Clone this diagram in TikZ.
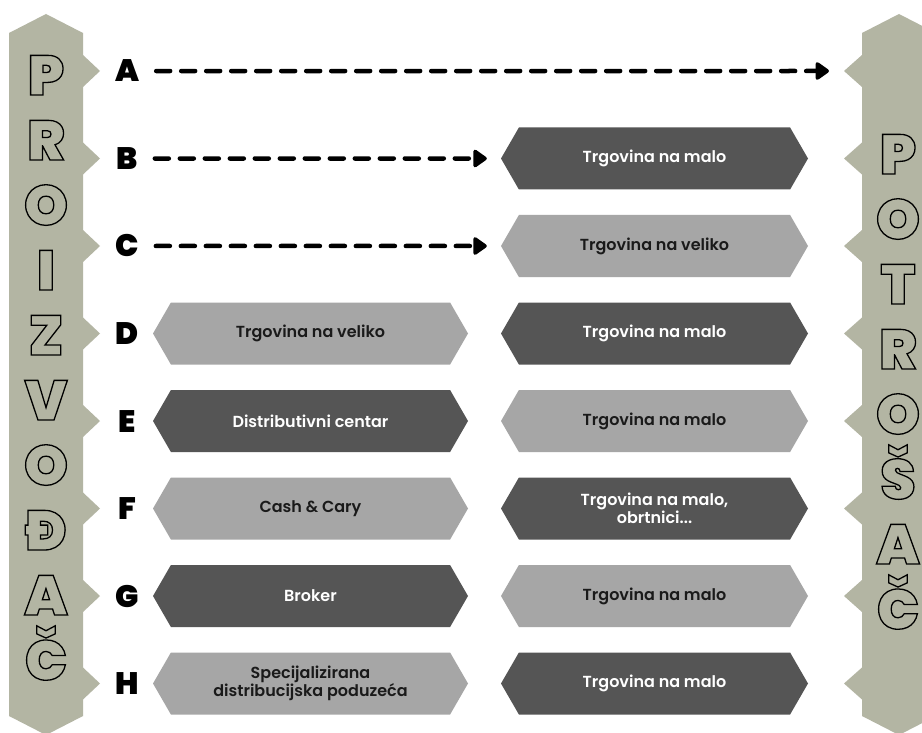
\documentclass[tikz,border=0pt]{standalone}
\usepackage{fontspec}
\setmainfont{Poppins}
\newfontfamily\heavy{Poppins Black}
\newfontfamily\boxfont{Poppins SemiBold}
\usetikzlibrary{shapes.symbols,arrows.meta}
\definecolor{bar}{HTML}{B3B5A3}
\definecolor{dk}{HTML}{555555}
\definecolor{lt}{HTML}{A6A6A6}
\definecolor{ink}{HTML}{1A1A1A}
\newcommand\hollowtxt[1]{\special{pdf:literal direct 1 Tr 1.3 w 0 0 0 RG}#1\special{pdf:literal direct 0 Tr}}
\begin{document}
\begin{tikzpicture}[x=1pt,y=-1pt,
  rowlet/.style={font=\heavy\fontsize{31}{31}\selectfont, text=black, anchor=base, inner sep=0pt},
  barlet/.style={font=\heavy\fontsize{56}{56}\selectfont, anchor=base, inner sep=0pt},
  hexbox/.style={signal, signal to=west and east, signal pointer angle=120, minimum height=62pt, inner sep=0pt, font=\boxfont\fontsize{16}{17.5}\selectfont, align=center},
  dkbox/.style={hexbox, fill=dk, text=white},
  ltbox/.style={hexbox, fill=lt, text=ink},
  leftcol/.style={minimum width=315pt},
  rightcol/.style={minimum width=307pt},
  dasharrow/.style={line width=4.5pt, dash pattern=on 14pt off 11pt, line cap=round, -{Triangle[length=15pt,width=20pt,round]}}
]
\useasboundingbox (0,0) rectangle (922,733);
\fill[white] (0,0) rectangle (922,733);
% side bars
\fill[bar] (9,33) -- (46,14) -- (83,33)
  \foreach \i in {0,...,7}{ -- (83,{71+87.5*\i-16}) -- (100,{71+87.5*\i}) -- (83,{71+87.5*\i+16}) }
  -- (83,716) -- (46,735) -- (9,716) -- cycle;
\fill[bar] (936,33) -- (899,14) -- (862,33)
  \foreach \i in {0,...,7}{ -- (862,{71+87.5*\i-16}) -- (844,{71+87.5*\i}) -- (862,{71+87.5*\i+16}) }
  -- (862,716) -- (899,735) -- (936,716) -- cycle;
% bar letters
\foreach \t [count=\i from 0] in {P,R,O,I,Z,V,O,Đ,A,Č}
  \node[barlet] (L\i) at (46,{95+65*\i}) {\hollowtxt{\t}};
\foreach \t [count=\i from 0] in {P,O,T,R,O,Š,A,Č}
  \node[barlet] (R\i) at (898,{174+65*\i}) {\hollowtxt{\t}};
% row letters
\foreach \t [count=\i from 0] in {A,B,C,D,E,F,G,H}
  \node[rowlet] (\t) at (127,{82+87.5*\i}) {\t};
\coordinate (rA) at (844,71);
% boxes
\node[dkbox,rightcol] (rB) at (654.5,158.5) {Trgovina na malo};
\node[ltbox,rightcol] (rC) at (654.5,246) {Trgovina na veliko};
\node[ltbox,leftcol] (lD) at (310.5,333.5) {Trgovina na veliko};
\node[dkbox,rightcol] (rD) at (654.5,333.5) {Trgovina na malo};
\node[dkbox,leftcol] (lE) at (310.5,421) {Distributivni centar};
\node[ltbox,rightcol] (rE) at (654.5,421) {Trgovina na malo};
\node[ltbox,leftcol] (lF) at (310.5,508.5) {Cash \& Cary};
\node[dkbox,rightcol] (rF) at (654.5,508.5) {Trgovina na malo,\\obrtnici...};
\node[dkbox,leftcol] (lG) at (310.5,596) {Broker};
\node[ltbox,rightcol] (rG) at (654.5,596) {Trgovina na malo};
\node[ltbox,leftcol] (lH) at (310.5,683.5) {Specijalizirana\\distribucijska poduzeća};
\node[dkbox,rightcol] (rH) at (654.5,683.5) {Trgovina na malo};
% arrows
\draw[dasharrow, shorten <=17pt, shorten >=15pt] (A.east) -- (rA);
\draw[dasharrow, shorten <=17pt, shorten >=14pt] (B.east) -- (rB.west);
\draw[dasharrow, shorten <=17pt, shorten >=14pt] (C.east) -- (rC.west);
\end{tikzpicture}
\end{document}
